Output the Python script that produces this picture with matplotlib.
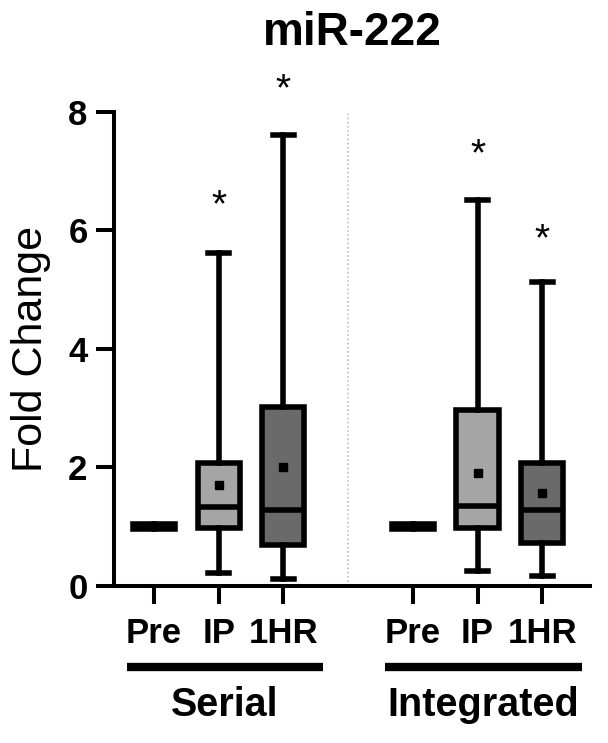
import matplotlib.pyplot as plt
from matplotlib.transforms import blended_transform_factory

plt.rcParams['font.family'] = ['Liberation Sans', 'DejaVu Sans']

# data (fold change)
groups = ['Serial', 'Integrated']
timepoints = ['Pre', 'IP', '1HR']
positions = [1, 2, 3, 5, 6, 7]
whislo = [1.0, 0.22, 0.12, 1.0, 0.25, 0.17]
q1 = [0.97, 0.98, 0.69, 0.97, 0.98, 0.73]
med = [1.0, 1.33, 1.28, 1.0, 1.35, 1.28]
q3 = [1.04, 2.08, 3.02, 1.04, 2.97, 2.08]
whishi = [1.0, 5.62, 7.61, 1.0, 6.51, 5.13]
means = [1.0, 1.70, 2.00, 1.0, 1.91, 1.57]
box_colors = ['white', '#a5a5a5', '#6a6a6a', 'white', '#a5a5a5', '#6a6a6a']
star_y = [None, 6.40, 8.37, None, 7.27, 5.84]

fig = plt.figure(figsize=(6.08, 7.43), dpi=100)
ax = fig.add_axes([0.1875, 0.2113, 0.783, 0.638])

stats = []
for i in range(len(positions)):
    stats.append(dict(whislo=whislo[i], q1=q1[i], med=med[i], q3=q3[i],
                      whishi=whishi[i], mean=means[i], fliers=[]))

lw = 4.0
bp = ax.bxp(stats, positions=positions, widths=0.65, patch_artist=True,
            showmeans=True, showfliers=False,
            boxprops=dict(linewidth=lw, edgecolor='black'),
            medianprops=dict(linewidth=lw, color='black'),
            whiskerprops=dict(linewidth=lw, color='black'),
            capprops=dict(linewidth=lw, color='black'),
            meanprops=dict(marker='s', markersize=6, markerfacecolor='black',
                           markeredgecolor='black'),
            capwidths=0.33)
for patch, c in zip(bp['boxes'], box_colors):
    patch.set_facecolor(c)
# Pre boxes are collapsed to a solid black bar
for i, p in enumerate(positions):
    if timepoints[i % 3] == 'Pre':
        bp['boxes'][i].set_facecolor('black')
        bp['means'][i].set_visible(False)
        bp['caps'][2 * i].set_visible(False)
        bp['caps'][2 * i + 1].set_visible(False)

for p, s in zip(positions, star_y):
    if s is not None:
        ax.text(p, s, '*', ha='center', va='center', fontsize=28)

ax.axvline(4, color='#bdbdbd', linestyle=(0, (1, 1.5)), linewidth=1.2)

ax.set_xlim(0.38, 7.74)
ax.set_ylim(0, 8)
ax.set_yticks([0, 2, 4, 6, 8])
ax.set_xticks(positions)
ax.set_xticklabels(timepoints * 2)
for sp in ['top', 'right']:
    ax.spines[sp].set_visible(False)
for sp in ['left', 'bottom']:
    ax.spines[sp].set_linewidth(2.9)
ax.tick_params(width=2.9, length=13, labelsize=25)
ax.tick_params(axis='x', pad=9)
ax.tick_params(axis='y', pad=6)
for lab in ax.get_xticklabels() + ax.get_yticklabels():
    lab.set_fontweight('bold')

ax.set_ylabel('Fold Change', fontsize=31)
ax.yaxis.set_label_coords(-0.132, 0.5)
fig.text(0.5 * (0.1875 * 2 + 0.783), 1 - 33 / 743, 'miR-222', ha='center',
         va='center', fontsize=33, fontweight='bold')

trans = blended_transform_factory(ax.transData, ax.transAxes)
spans = [(0.58, 3.61), (4.57, 7.62)]
for g, (a, b) in zip(groups, spans):
    ax.plot([a, b], [-0.171, -0.171], color='black', linewidth=6,
            transform=trans, clip_on=False, solid_capstyle='butt')
    ax.text((a + b) / 2, -0.251, g, transform=trans, ha='center', va='center',
            fontsize=28.5, fontweight='bold')

fig.savefig('out.png', dpi=100)
